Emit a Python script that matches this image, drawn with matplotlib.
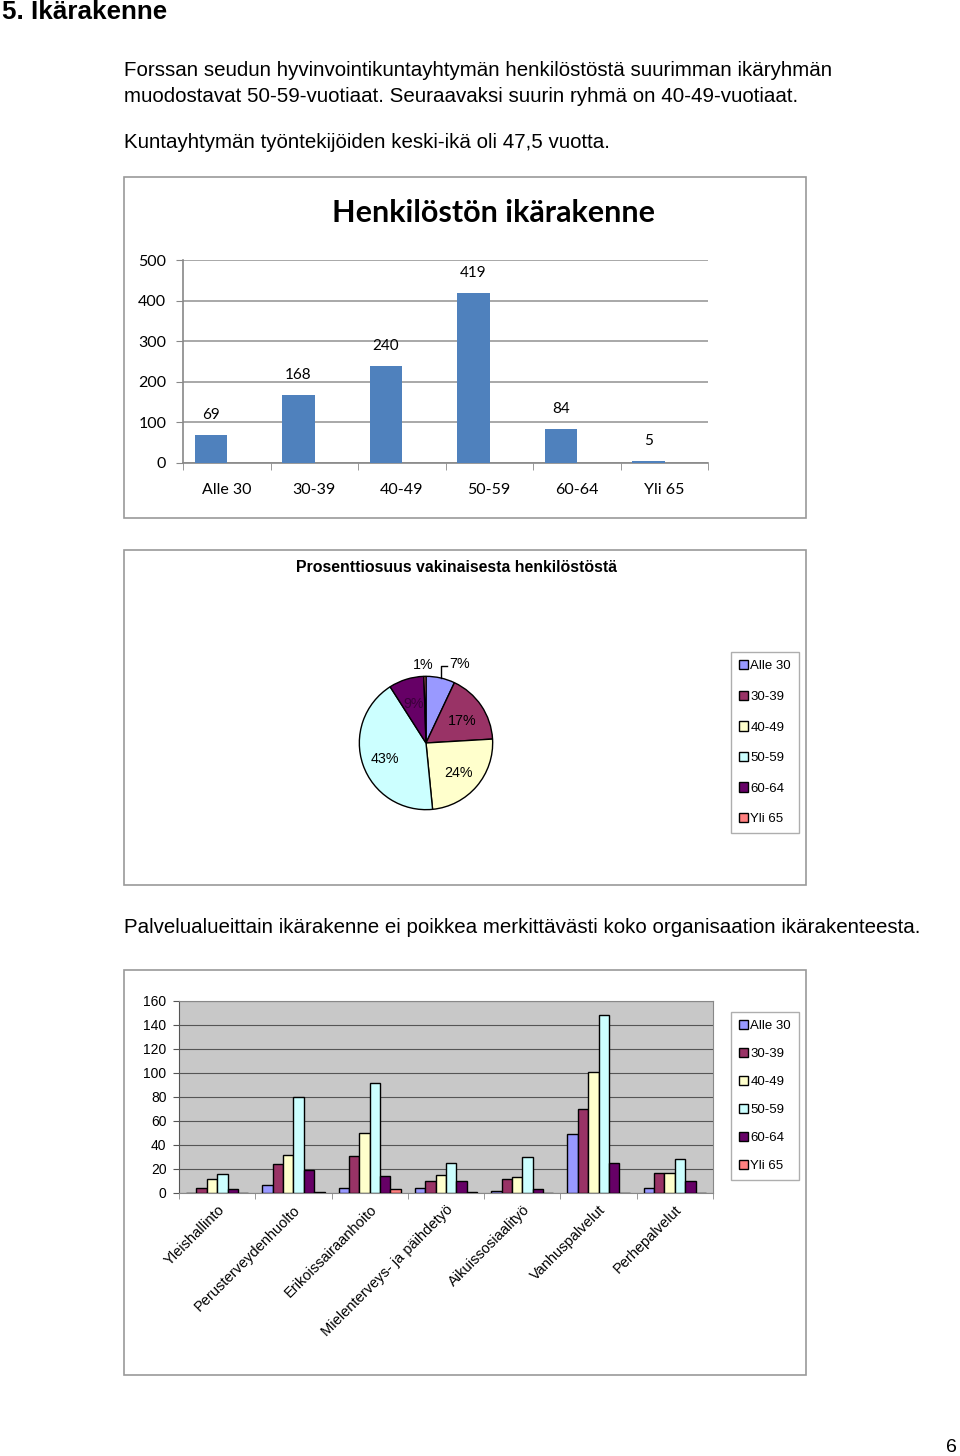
import matplotlib.pyplot as plt
from matplotlib.patches import Rectangle, Patch
import numpy as np

W, H = 960, 1456

# data
age_groups = ["Alle 30", "30-39", "40-49", "50-59", "60-64", "Yli 65"]
age_counts = [69, 168, 240, 419, 84, 5]

units = ["Yleishallinto", "Perusterveydenhuolto", "Erikoissairaanhoito",
         "Mielenterveys- ja päihdetyö", "Aikuissosiaalityö",
         "Vanhuspalvelut", "Perhepalvelut"]
alle30 = [0, 7, 4, 4, 2, 49, 4]
age30_39 = [4, 24, 31, 10, 12, 70, 17]
age40_49 = [12, 32, 50, 15, 13, 101, 17]
age50_59 = [16, 80, 92, 25, 30, 148, 28]
age60_64 = [3, 19, 14, 10, 3, 25, 10]
yli65 = [0, 1, 3, 1, 0, 0, 0]

xl_colors = ["#9999FF", "#993366", "#FFFFCC", "#CCFFFF", "#660066", "#FF8080"]
ARIAL = "Liberation Sans"
CALIBRI = "Lato"
BODY = 14.8


def rect(x0, y0, x1, y1):
    """pixel box (top-left origin) -> figure fraction rect"""
    return [x0 / W, 1 - y1 / H, (x1 - x0) / W, (y1 - y0) / H]


def frame(fig, x0, y0, x1, y1):
    fig.patches.append(Rectangle((x0 / W, 1 - y1 / H), (x1 - x0) / W, (y1 - y0) / H,
                                 transform=fig.transFigure, fill=False,
                                 edgecolor="#9A9A9A", linewidth=1.2))


def ftext(fig, x, y, s, **kw):
    fig.text(x / W, 1 - y / H, s, **kw)


fig = plt.figure(figsize=(W / 100, H / 100), dpi=100)

# page text
ftext(fig, 2, 12, "5. Ikärakenne", family=ARIAL, fontsize=18.7, weight="bold", va="center")
ftext(fig, 124, 70, "Forssan seudun hyvinvointikuntayhtymän henkilöstöstä suurimman ikäryhmän",
      family=ARIAL, fontsize=BODY, va="center")
ftext(fig, 124, 97, "muodostavat 50-59-vuotiaat. Seuraavaksi suurin ryhmä on 40-49-vuotiaat.",
      family=ARIAL, fontsize=BODY, va="center")
ftext(fig, 124, 143, "Kuntayhtymän työntekijöiden keski-ikä oli 47,5 vuotta.",
      family=ARIAL, fontsize=BODY, va="center")
ftext(fig, 124, 928, "Palvelualueittain ikärakenne ei poikkea merkittävästi koko organisaation ikärakenteesta.",
      family=ARIAL, fontsize=BODY, va="center")
ftext(fig, 957, 1447, "6", family=ARIAL, fontsize=14, va="center", ha="right")

# ---- chart 1: bar chart of age groups
frame(fig, 124, 177, 806, 518)
ftext(fig, 494, 213, "Henkilöstön ikärakenne", family=CALIBRI, fontsize=22,
      weight="bold", ha="center", va="center")
ax1 = fig.add_axes(rect(183, 260, 708, 463))
pos = np.arange(len(age_groups))
ax1.bar(pos + 0.32, age_counts, width=0.37, color="#4F81BD", zorder=3)
for p, v in zip(pos, age_counts):
    ax1.annotate(str(v), (p + 0.32, v), xytext=(0, 9), textcoords="offset points",
                 ha="center", va="bottom", family=CALIBRI, fontsize=11)
ax1.set_xlim(0, len(age_groups))
ax1.set_ylim(0, 500)
ax1.set_yticks(range(0, 501, 100))
ax1.set_xticks(pos + 0.5)
ax1.set_xticklabels(age_groups, family=CALIBRI, fontsize=11.5)
ax1.set_xticks(np.arange(len(age_groups) + 1), minor=True)
ax1.tick_params(axis="x", which="major", length=0, pad=14.5)
ax1.tick_params(axis="x", which="minor", length=5, color="#888888")
ax1.tick_params(axis="y", length=5, color="#888888", pad=7, labelsize=11.5)
for t in ax1.get_yticklabels():
    t.set_family(CALIBRI)
ax1.grid(axis="y", color="#9A9A9A", linewidth=1.2, zorder=0)
for s in ["top", "right"]:
    ax1.spines[s].set_visible(False)
for s in ["left", "bottom"]:
    ax1.spines[s].set_color("#888888")
    ax1.spines[s].set_linewidth(1.2)

# ---- chart 2: pie
frame(fig, 124, 550, 806, 885)
ftext(fig, 457, 568, "Prosenttiosuus vakinaisesta henkilöstöstä", family=ARIAL,
      fontsize=11.4, weight="bold", ha="center", va="center")
ax2 = fig.add_axes(rect(326, 643, 526, 843))
wedges, _ = ax2.pie(age_counts, colors=xl_colors, startangle=90, counterclock=False,
                    radius=1.0, wedgeprops=dict(edgecolor="black", linewidth=1.0))
ax2.set_xlim(-1.5, 1.5)
ax2.set_ylim(-1.5, 1.5)
ax2.set_aspect("equal")
ax2.axis("off")
total = sum(age_counts)
for i, (w, v) in enumerate(zip(wedges, age_counts)):
    share = v / total
    ang = np.deg2rad((w.theta1 + w.theta2) / 2)
    lab = f"{share * 100:.0f}%"
    if share < 0.08:
        x, y = 1.18 * np.cos(ang), 1.17 * np.sin(ang)
        if np.cos(ang) > 0.1:
            # moved to the right with a leader line
            ax2.plot([1.0 * np.cos(ang), 1.0 * np.cos(ang), 0.31],
                     [1.0 * np.sin(ang), 1.16, 1.16], color="black", lw=1.0)
            ax2.text(0.51, 1.18, lab, ha="center", va="center", family=ARIAL, fontsize=10.3)
        else:
            ax2.text(x - 0.03, y, lab, ha="center", va="center", family=ARIAL, fontsize=10.3)
    else:
        r = 0.65
        ax2.text(r * np.cos(ang), r * np.sin(ang) - 0.03, lab, ha="center", va="center",
                 family=ARIAL, fontsize=10.3, color="#3A003A" if i == 4 else "black")

handles = [Patch(facecolor=c, edgecolor="black", linewidth=1.0) for c in xl_colors]
leg2 = fig.legend(handles, age_groups, loc="upper left",
                  bbox_to_anchor=(731 / W, 1 - 652 / H), prop=dict(family=ARIAL, size=9.5),
                  handlelength=0.7, handleheight=0.7, handletextpad=0.15,
                  labelspacing=1.39, borderpad=0.62, borderaxespad=0,
                  frameon=True, fancybox=False, edgecolor="#9A9A9A")
leg2.get_frame().set_linewidth(1.0)

# ---- chart 3: grouped bars per service area
frame(fig, 124, 970, 806, 1375)
ax3 = fig.add_axes(rect(179, 1001, 713, 1193))
ax3.set_facecolor("#C8C8C8")
series = [alle30, age30_39, age40_49, age50_59, age60_64, yli65]
gx = np.arange(len(units)) + 0.5
bw = 0.136
for j, (vals, c) in enumerate(zip(series, xl_colors)):
    ax3.bar(gx + (j - 2.5) * bw, vals, width=bw, color=c, edgecolor="black",
            linewidth=1.0, zorder=3)
ax3.set_xlim(0, len(units))
ax3.set_ylim(0, 160)
ax3.set_yticks(range(0, 161, 20))
ax3.grid(axis="y", color="#555555", linewidth=0.8, zorder=0)
ax3.set_xticks(gx)
ax3.set_xticklabels(units, rotation=45, ha="right", rotation_mode="anchor",
                    family=ARIAL, fontsize=10.5)
ax3.set_xticks(np.arange(len(units) + 1), minor=True)
ax3.tick_params(axis="x", which="major", length=0, pad=7)
ax3.tick_params(axis="x", which="minor", length=4, color="#888888")
ax3.tick_params(axis="y", length=4, color="#555555", pad=5, labelsize=10)
for t in ax3.get_yticklabels():
    t.set_family(ARIAL)
ax3.spines["top"].set_color("#888888")
ax3.spines["right"].set_color("#888888")
ax3.spines["left"].set_color("#555555")
ax3.spines["bottom"].set_color("#888888")

leg3 = fig.legend(handles, age_groups, loc="upper left",
                  bbox_to_anchor=(731 / W, 1 - 1012 / H), prop=dict(family=ARIAL, size=9.5),
                  handlelength=0.7, handleheight=0.7, handletextpad=0.15,
                  labelspacing=1.19, borderpad=0.62, borderaxespad=0,
                  frameon=True, fancybox=False, edgecolor="#9A9A9A")
leg3.get_frame().set_linewidth(1.0)

fig.savefig("out.png", dpi=100)
